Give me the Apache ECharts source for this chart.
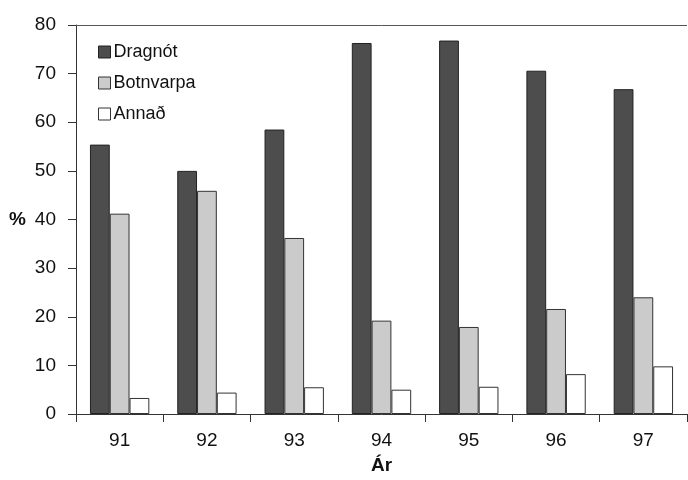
<!DOCTYPE html>
<html>
<head>
<meta charset="utf-8">
<script src="https://cdn.jsdelivr.net/npm/echarts@6/dist/echarts.min.js"></script>
<style>html,body{margin:0;padding:0;background:#fff;}#c{width:688px;height:480px;}</style>
</head>
<body>
<div id="c"></div>
<script>
var categories = ['91', '92', '93', '94', '95', '96', '97'];
var dragnot = [55.4, 50.0, 58.5, 76.3, 76.8, 70.6, 66.8];
var botnvarpa = [41.2, 45.9, 36.2, 19.2, 17.9, 21.6, 24.0];
var annad = [3.3, 4.4, 5.5, 5.0, 5.6, 8.2, 9.8];
var yTicks = [0, 10, 20, 30, 40, 50, 60, 70, 80];

var chart = echarts.init(document.getElementById('c'));
var font = 'Liberation Sans, Arial, sans-serif';
chart.setOption({
  animation: false,
  backgroundColor: '#fff',
  textStyle: {fontFamily: font},
  legend: {
    orient: 'vertical', left: 93, top: 38, itemGap: 13,
    itemWidth: 12, itemHeight: 12, icon: 'rect',
    textStyle: {fontSize: 18, color: '#111', fontFamily: font, padding: [0, 0, 0, -2]},
    data: [
      {name: 'Dragnót', itemStyle: {borderColor: '#222', borderWidth: 1}},
      {name: 'Botnvarpa', itemStyle: {borderColor: '#333', borderWidth: 1}},
      {name: 'Annað', itemStyle: {borderColor: '#333', borderWidth: 1}}
    ]
  },
  grid: {left: 76, right: 1, top: 25, bottom: 66, containLabel: false},
  xAxis: {
    type: 'category', data: categories,
    axisLine: {lineStyle: {color: '#333', width: 1}},
    axisTick: {show: true, length: 8, lineStyle: {color: '#333'}},
    axisLabel: {fontSize: 19, color: '#111', margin: 17},
    name: 'Ár', nameLocation: 'middle', nameGap: 42,
    nameTextStyle: {fontSize: 19, fontWeight: 'bold', color: '#111'}
  },
  yAxis: {
    type: 'value', min: yTicks[0], max: yTicks[yTicks.length - 1], interval: 10,
    axisLine: {show: true, lineStyle: {color: '#333'}},
    axisTick: {show: true, length: 8, lineStyle: {color: '#333'}},
    splitLine: {show: false},
    axisLabel: {fontSize: 19, color: '#111', margin: 20},
    name: '%', nameLocation: 'middle', nameRotate: 0, nameGap: 50,
    nameTextStyle: {fontSize: 19, fontWeight: 'bold', color: '#111'}
  },
  series: [
    {name: 'Dragnót', type: 'bar', data: dragnot, barGap: '0%', barCategoryGap: '32%',
     itemStyle: {color: '#4d4d4d', borderColor: '#222', borderWidth: 1}},
    {name: 'Botnvarpa', type: 'bar', data: botnvarpa,
     itemStyle: {color: '#cbcbcb', borderColor: '#333', borderWidth: 1}},
    {name: 'Annað', type: 'bar', data: annad,
     itemStyle: {color: '#ffffff', borderColor: '#333', borderWidth: 1},
     markLine: {silent: true, symbol: 'none', label: {show: false},
       lineStyle: {color: '#555', width: 1, type: 'solid'},
       data: [{yAxis: yTicks[yTicks.length - 1]}]}}
  ]
});
</script>
</body>
</html>
